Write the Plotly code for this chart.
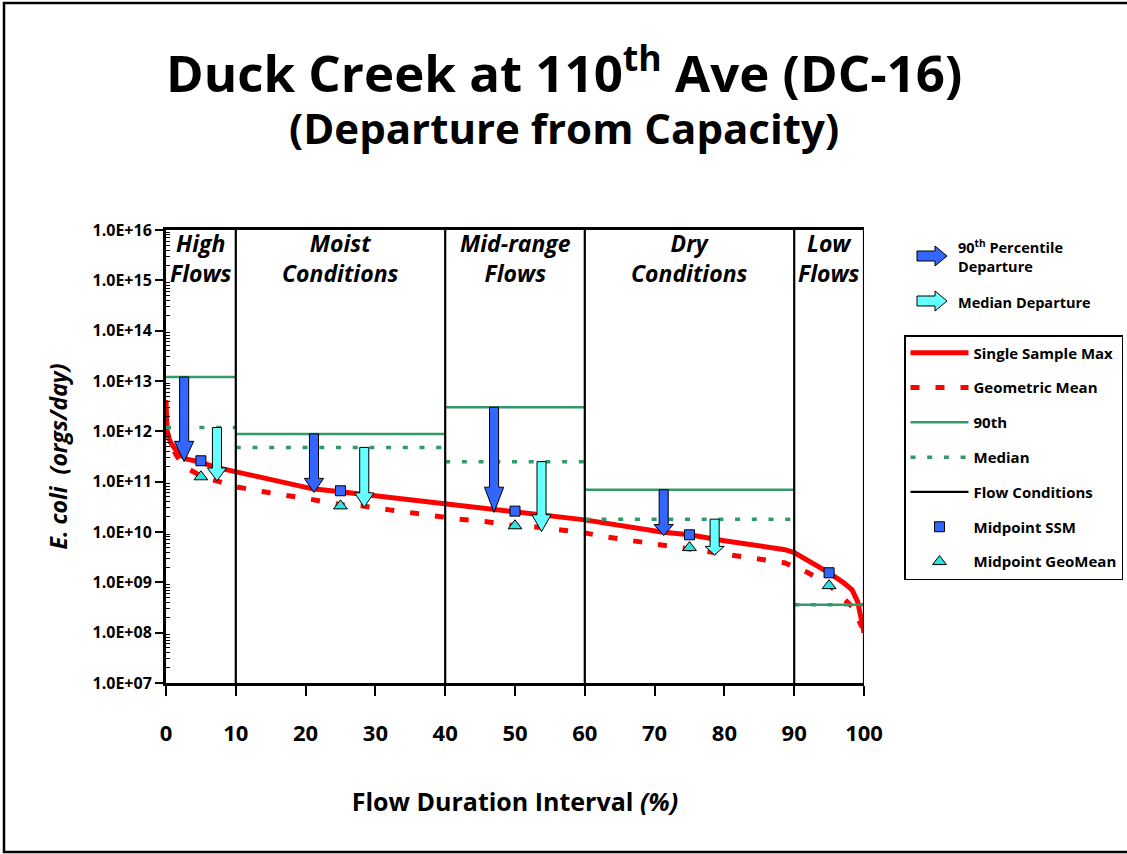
import numpy as np
import plotly.graph_objects as go

# Flow regime boundaries (flow duration interval, %)
region_bounds = [0, 10, 40, 60, 90, 100]
region_names = ["High<br>Flows", "Moist<br>Conditions", "Mid-range<br>Flows",
                "Dry<br>Conditions", "Low<br>Flows"]

# Load duration curve for the single sample maximum criterion
ssm_x = [0, 0.15, 0.6, 1.7, 3, 5, 7, 10, 15, 21, 25, 30, 40, 50, 60, 71, 75, 80,
         88.7, 90, 92.5, 95, 97, 98.3, 99.1, 99.5, 100]
ssm_y = [4.2e12, 9.8e11, 6.2e11, 3.7e11, 2.8e11, 2.45e11, 1.95e11, 1.57e11, 1.15e11,
         7.2e10, 6.3e10, 5.25e10, 3.8e10, 2.6e10, 1.74e10, 1.0e10, 8.8e9, 6.7e9,
         4.45e9, 3.9e9, 2.5e9, 1.55e9, 1.0e9, 7.1e8, 4.1e8, 2.3e8, 1.0e8]

# Load duration curve for the geometric mean criterion
geo_x = [0, 1, 2, 3, 5, 7, 10, 14, 17, 21, 25, 28, 32, 35, 39, 42, 46, 50, 53, 60,
         63, 67, 70, 75, 78, 81, 85, 88.6, 92, 95, 98.3, 99.7]
geo_y = [1.17e12, 4.3e11, 2.6e11, 1.86e11, 1.3e11, 1.04e11, 7.9e10, 6.3e10, 5.5e10,
         4.4e10, 3.5e10, 3.3e10, 2.75e10, 2.4e10, 2.0e10, 1.8e10, 1.6e10, 1.33e10,
         1.26e10, 9.6e9, 8.0e9, 6.7e9, 5.8e9, 4.7e9, 4.1e9, 3.5e9, 2.95e9, 2.45e9,
         1.55e9, 8.9e8, 3.3e8, 1.3e8]

# Observed loads per flow regime
p90_load = [1.2e13, 8.9e11, 3.0e12, 6.9e10, 3.6e8]
median_load = [1.19e12, 4.8e11, 2.5e11, 1.8e10, 3.6e8]

# Criterion loads at regime midpoints
mid_x = [5, 25, 50, 75, 95]
mid_ssm = [2.6e11, 6.6e10, 2.6e10, 8.8e9, 1.55e9]
mid_geo = [1.25e11, 3.3e10, 1.33e10, 4.9e9, 8.6e8]

# Departure arrows (regimes where observed loads exceed capacity)
p90_arrow_x = [2.6, 21.2, 47.0, 71.3]
p90_arrow_end = [2.5e11, 6.1e10, 2.45e10, 8.5e9]
med_arrow_x = [7.3, 28.4, 53.8, 78.6]
med_arrow_end = [1.04e11, 3.1e10, 1.02e10, 3.5e9]

y_tick_exp = list(range(7, 17))
y_tick_text = ["1.0E+%02d" % e for e in y_tick_exp]

FONT = "Open Sans"
RED = "#FF0000"
GREEN = "#339966"
BLUE = "#3366FF"
CYAN = "#66FFFF"
TRI = "#33E0E0"

W, H = 1127, 854
L, R, T, B = 166, 263, 230, 171
PW, PH = W - L - R, H - T - B


def px_x(p):
    return (p - L) / PW


def px_y(p):
    return (H - B - p) / PH


def step_segments(bounds, values):
    xs, ys = [], []
    for i, v in enumerate(values):
        xs += [bounds[i], bounds[i + 1], None]
        ys += [v, v, None]
    return xs, ys


def down_arrows(xc_list, tops, tips, shaft_w=1.3, head_w=2.75, head_frac=0.24):
    xs, ys = [], []
    for xc, top, tip in zip(xc_list, tops, tips):
        lt, lb = np.log10(top), np.log10(tip)
        neck = 10 ** (lb + head_frac * (lt - lb))
        xs += [xc - shaft_w / 2, xc + shaft_w / 2, xc + shaft_w / 2, xc + head_w / 2,
               xc, xc - head_w / 2, xc - shaft_w / 2, xc - shaft_w / 2, None]
        ys += [top, top, neck, neck, tip, neck, neck, top, None]
    return xs, ys


fig = go.Figure()

fig.add_trace(go.Scatter(x=ssm_x, y=ssm_y, mode="lines", name="Single Sample Max",
                         legendgroup="a", line=dict(color=RED, width=5)))
fig.add_trace(go.Scatter(x=geo_x, y=geo_y, mode="lines", name="Geometric Mean",
                         legendgroup="b", line=dict(color=RED, width=5, dash="9px,16px")))

px90, py90 = step_segments(region_bounds, p90_load)
fig.add_trace(go.Scatter(x=px90, y=py90, mode="lines", name="90th", legendgroup="c",
                         line=dict(color=GREEN, width=2.5)))
pmed, ymed = step_segments(region_bounds, median_load)
fig.add_trace(go.Scatter(x=pmed, y=ymed, mode="lines", name="Median", legendgroup="d",
                         line=dict(color=GREEN, width=3.5, dash="5px,11.7px")))

fx, fy = [], []
for b in region_bounds[1:]:
    fx += [b, b, None]
    fy += [10 ** y_tick_exp[0], 10 ** y_tick_exp[-1], None]
fig.add_trace(go.Scatter(x=fx, y=fy, mode="lines", name="Flow Conditions", legendgroup="e",
                         line=dict(color="black", width=2.2)))

ax, ay = down_arrows(p90_arrow_x, p90_load[:4], p90_arrow_end)
fig.add_trace(go.Scatter(x=ax, y=ay, mode="lines", fill="toself", fillcolor=BLUE,
                         line=dict(color="black", width=1), showlegend=False, hoverinfo="skip"))
ax, ay = down_arrows(med_arrow_x, median_load[:4], med_arrow_end)
fig.add_trace(go.Scatter(x=ax, y=ay, mode="lines", fill="toself", fillcolor=CYAN,
                         line=dict(color="black", width=1), showlegend=False, hoverinfo="skip"))

fig.add_trace(go.Scatter(x=mid_x, y=mid_ssm, mode="markers", name="Midpoint SSM", legendgroup="f",
                         marker=dict(symbol="square", size=10, color=BLUE,
                                     line=dict(color="black", width=1))))
fig.add_trace(go.Scatter(x=mid_x, y=mid_geo, mode="markers", name="Midpoint GeoMean", legendgroup="g",
                         marker=dict(symbol="triangle-up", size=12, color=TRI,
                                     line=dict(color="black", width=1))))

annotations = []
# Flow regime labels
for i, name in enumerate(region_names):
    annotations.append(dict(x=(region_bounds[i] + region_bounds[i + 1]) / 2, y=1.0,
                            xref="x", yref="paper", xanchor="center", yanchor="top",
                            yshift=5, showarrow=False, text="<i>%s</i>" % name,
                            font=dict(family=FONT, size=23, color="black", weight="bold")))
# Title lines
annotations.append(dict(x=px_x(W / 2), y=px_y(70), xref="paper", yref="paper", showarrow=False,
                        xanchor="center", yanchor="middle",
                        text="Duck Creek at 110<sup>th</sup> Ave (DC-16)",
                        font=dict(family=FONT, size=51, color="black", weight="bold")))
annotations.append(dict(x=px_x(W / 2), y=px_y(128), xref="paper", yref="paper", showarrow=False,
                        xanchor="center", yanchor="middle",
                        text="(Departure from Capacity)",
                        font=dict(family=FONT, size=42, color="black", weight="bold")))
# Departure arrow keys
annotations.append(dict(x=px_x(956), y=px_y(256), xref="paper", yref="paper", showarrow=False,
                        xanchor="left", yanchor="middle", align="left",
                        text="90<sup>th</sup> Percentile<br>Departure",
                        font=dict(family=FONT, size=14.5, color="black", weight="bold")))
annotations.append(dict(x=px_x(956), y=px_y(302), xref="paper", yref="paper", showarrow=False,
                        xanchor="left", yanchor="middle", align="left", text="Median Departure",
                        font=dict(family=FONT, size=14.5, color="black", weight="bold")))


def right_arrow_path(x0, x1, yc, shaft_h=10, head_h=20, head_len=12):
    xn = x1 - head_len
    pts = [(x0, yc - shaft_h / 2), (xn, yc - shaft_h / 2), (xn, yc - head_h / 2), (x1, yc),
           (xn, yc + head_h / 2), (xn, yc + shaft_h / 2), (x0, yc + shaft_h / 2)]
    return "M " + " L ".join("%.5f,%.5f" % (px_x(a), px_y(b)) for a, b in pts) + " Z"


shapes = [
    dict(type="path", xref="paper", yref="paper", path=right_arrow_path(917, 947, 256),
         fillcolor=BLUE, line=dict(color="black", width=1)),
    dict(type="path", xref="paper", yref="paper", path=right_arrow_path(917, 947, 301),
         fillcolor=CYAN, line=dict(color="black", width=1)),
    # page frame
    dict(type="rect", xref="paper", yref="paper", x0=px_x(4), x1=px_x(1135),
         y0=px_y(852), y1=px_y(3), line=dict(color="black", width=2.5)),
]

minor_vals = [k * 10 ** e for e in y_tick_exp[:-1] for k in range(2, 10)]

fig.update_layout(
    width=W, height=H,
    margin=dict(l=L, r=R, t=T, b=B, autoexpand=False),
    paper_bgcolor="white", plot_bgcolor="white",
    font=dict(family=FONT, color="black"),
    annotations=annotations,
    shapes=shapes,
    legend=dict(x=px_x(904), y=px_y(335), xanchor="left", yanchor="top",
                bordercolor="black", borderwidth=1.5, bgcolor="white",
                traceorder="grouped", tracegroupgap=12.3, itemwidth=58,
                font=dict(family=FONT, size=15, color="black", weight="bold")),
    xaxis=dict(range=[0, 100], tick0=0, dtick=10, showgrid=False, zeroline=False,
               showline=True, linewidth=3, linecolor="black", mirror=True,
               ticks="outside", ticklen=10, tickwidth=2, tickcolor="black",
               ticklabelstandoff=19,
               tickfont=dict(family=FONT, size=22, color="black", weight="bold"),
               title=dict(text="Flow Duration Interval <i>(%)</i>", standoff=48,
                          font=dict(family=FONT, size=25, color="black", weight="bold"))),
    yaxis=dict(type="log", range=[y_tick_exp[0], y_tick_exp[-1]], showgrid=False, zeroline=False,
               showline=True, linewidth=3, linecolor="black",
               tickmode="array", tickvals=[10 ** e for e in y_tick_exp], ticktext=y_tick_text,
               ticks="outside", ticklen=8, tickwidth=2, tickcolor="black",
               tickfont=dict(family=FONT, size=16, color="black", weight="bold"),
               minor=dict(tickmode="array", tickvals=minor_vals, ticks="inside",
                          ticklen=4, tickwidth=1, tickcolor="black"),
               title=dict(text="<i>E. coli  (orgs/day)</i>", standoff=19,
                          font=dict(family=FONT, size=23, color="black", weight="bold"))),
)

fig.write_html("out.html")
